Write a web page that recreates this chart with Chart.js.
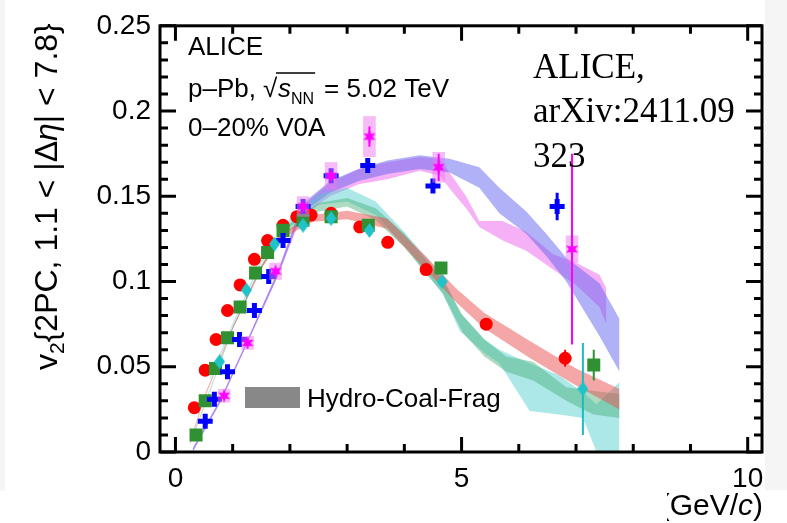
<!DOCTYPE html>
<html>
<head>
<meta charset="utf-8">
<script src="https://cdn.jsdelivr.net/npm/chart.js@4.4.1/dist/chart.umd.min.js"></script>
<style>
  html, body { margin: 0; padding: 0; background: #fff; }
  #wrap { position: relative; width: 787px; height: 523px; overflow: hidden; }
  .strip { position: absolute; background: #f5f5f5; }
  #c { position: absolute; left: 0; top: 0; }
  #cover { position: absolute; left: 0; top: 491px; width: 667px; height: 32px; background: #fff; }
</style>
</head>
<body>
<div id="wrap">
  <div class="strip" style="left:0;top:0;width:5px;height:496px"></div>
  <div class="strip" style="left:765px;top:0;width:22px;height:490px"></div>
  <canvas id="c" width="787" height="523"></canvas>
  <div id="cover"></div>
</div>
<script>
  // v2 vs pT, p-Pb 5.02 TeV, 0-20% V0A
  var SANS = '"Liberation Sans", Arial, Helvetica, sans-serif';
  var SERIF = '"Liberation Serif", "Times New Roman", serif';

  var X_MIN = -0.27, X_MAX = 10.25, Y_MIN = 0, Y_MAX = 0.25;
  var X_TICKS = [0, 5, 10];
  var X_TICK_LABELS = ['0', '5', '10'];
  var X_MINOR_TICKS = [1, 2, 3, 4, 6, 7, 8, 9];
  var Y_TICKS = [0, 0.05, 0.1, 0.15, 0.2, 0.25];
  var Y_TICK_LABELS = ['0', '0.05', '0.1', '0.15', '0.2', '0.25'];
  var Y_MINOR_TICKS = [0.01, 0.02, 0.03, 0.04, 0.06, 0.07, 0.08, 0.09, 0.11, 0.12, 0.13, 0.14,
                       0.16, 0.17, 0.18, 0.19, 0.21, 0.22, 0.23, 0.24];

  // data points
  var RED_X = [0.33, 0.52, 0.71, 0.91, 1.13, 1.38, 1.61, 1.88, 2.12, 2.37, 2.72, 3.22, 3.71, 4.38, 5.43, 6.81];
  var RED_Y = [0.026, 0.048, 0.066, 0.083, 0.098, 0.113, 0.124, 0.133, 0.138, 0.139, 0.140, 0.132, 0.123, 0.107, 0.075, 0.055];
  var RED_ERR = [0, 0, 0, 0, 0, 0, 0, 0, 0, 0, 0, 0, 0, 0, 0.002, 0.005];

  var GREEN_X = [0.36, 0.52, 0.70, 0.91, 1.13, 1.40, 1.61, 1.88, 2.23, 2.72, 3.37, 4.64, 7.31];
  var GREEN_Y = [0.010, 0.030, 0.049, 0.067, 0.085, 0.105, 0.117, 0.130, 0.136, 0.138, 0.133, 0.108, 0.051];
  var GREEN_ERR = [0, 0, 0, 0, 0, 0, 0, 0, 0, 0, 0, 0.002, 0.009];

  var BLUE_X = [0.52, 0.68, 0.91, 1.12, 1.38, 1.63, 1.88, 2.23, 2.72, 3.36, 4.50, 6.67];
  var BLUE_Y = [0.018, 0.031, 0.047, 0.066, 0.083, 0.103, 0.124, 0.144, 0.162, 0.168, 0.156, 0.144];
  var BLUE_ERR = [0, 0, 0, 0, 0, 0, 0, 0, 0, 0.002, 0.003, 0.008];

  var CYAN_X = [0.77, 1.24, 1.73, 2.23, 2.72, 3.39, 4.66, 7.12];
  var CYAN_Y = [0.053, 0.095, 0.122, 0.133, 0.137, 0.130, 0.100, 0.037];
  var CYAN_ERR = [0, 0, 0, 0, 0, 0, 0.003, 0.027];

  var MAGENTA_X = [0.85, 1.26, 1.75, 2.23, 2.72, 3.39, 4.60, 6.93];
  var MAGENTA_Y = [0.033, 0.064, 0.106, 0.144, 0.162, 0.185, 0.167, 0.119];
  var MAGENTA_ERR = [0, 0, 0, 0, 0.002, 0.006, 0.008, 0.056];
  var MAGENTA_SYS = [0.004, 0.004, 0.005, 0.006, 0.008, 0.012, 0.009, 0.008];
  var SYS_HALF_WIDTH = 0.11;

  // Hydro-Coal-Frag bands
  var PINK_BAND_X = [0.3, 0.8, 1.3, 1.8, 2.2, 2.7, 3.2, 3.7, 4.27, 4.62, 4.85, 5.08, 5.31, 5.72, 6.13, 6.6, 7.0, 7.41, 7.53];
  var PINK_BAND_LO = [0.000, 0.030, 0.067, 0.104, 0.138, 0.150, 0.157, 0.160, 0.165, 0.162, 0.152, 0.143, 0.132, 0.124, 0.118, 0.107, 0.098, 0.085, 0.075];
  var PINK_BAND_HI = [0.002, 0.032, 0.069, 0.107, 0.144, 0.158, 0.166, 0.170, 0.173, 0.172, 0.161, 0.150, 0.1355, 0.1355, 0.129, 0.116, 0.111, 0.104, 0.096];

  var BLUE_BAND_X = [0.3, 0.8, 1.3, 1.8, 2.2, 2.7, 3.2, 3.7, 4.27, 4.79, 5.31, 5.66, 6.13, 6.48, 6.83, 7.41, 7.76];
  var BLUE_BAND_LO = [0.000, 0.030, 0.067, 0.104, 0.140, 0.152, 0.159, 0.163, 0.166, 0.164, 0.155, 0.140, 0.128, 0.115, 0.100, 0.068, 0.047];
  var BLUE_BAND_HI = [0.002, 0.032, 0.069, 0.107, 0.145, 0.159, 0.166, 0.171, 0.174, 0.172, 0.167, 0.155, 0.141, 0.128, 0.114, 0.099, 0.078];

  var RED_BAND_X = [0.25, 0.5, 1.0, 1.5, 1.8, 2.4, 3.0, 3.7, 4.4, 4.9, 5.4, 6.2, 7.0, 7.76];
  var RED_BAND_LO = [0.004, 0.031, 0.072, 0.107, 0.124, 0.135, 0.1365, 0.131, 0.106, 0.088, 0.0725, 0.055, 0.039, 0.025];
  var RED_BAND_HI = [0.0055, 0.0325, 0.0735, 0.109, 0.127, 0.139, 0.1415, 0.137, 0.114, 0.096, 0.0815, 0.065, 0.049, 0.037];

  var GREEN_BAND_X = [0.3, 0.6, 1.0, 1.5, 2.0, 2.5, 3.0, 3.5, 4.0, 4.67, 5.02, 5.4, 5.78, 6.25, 6.83, 7.3, 7.76];
  var GREEN_BAND_LO = [0.008, 0.035, 0.072, 0.108, 0.130, 0.141, 0.144, 0.136, 0.120, 0.093, 0.070, 0.056, 0.047, 0.042, 0.030, 0.022, 0.020];
  var GREEN_BAND_HI = [0.0095, 0.0365, 0.0735, 0.110, 0.134, 0.146, 0.149, 0.143, 0.128, 0.101, 0.080, 0.066, 0.056, 0.053, 0.038, 0.036, 0.034];

  var CYAN_BAND_X = [0.6, 1.0, 1.5, 2.0, 2.5, 3.0, 3.5, 4.0, 4.67, 4.97, 5.4, 5.66, 6.19, 6.7, 7.12, 7.36, 7.76];
  var CYAN_BAND_LO = [0.042, 0.074, 0.111, 0.132, 0.145, 0.147, 0.139, 0.121, 0.093, 0.071, 0.058, 0.052, 0.024, 0.022, 0.020, 0.000, 0.000];
  var CYAN_BAND_HI = [0.0435, 0.0755, 0.113, 0.137, 0.151, 0.155, 0.147, 0.129, 0.103, 0.082, 0.066, 0.060, 0.052, 0.045, 0.035, 0.028, 0.041];

  function pts(xs, ys) {
    return xs.map(function(x, i) { return { x: x, y: ys[i] }; });
  }

  // marker images
  function makeDiamond(w, h, color) {
    var c = document.createElement('canvas');
    c.width = w; c.height = h;
    var g = c.getContext('2d');
    g.fillStyle = color;
    g.beginPath();
    g.moveTo(w / 2, 0); g.lineTo(w, h / 2); g.lineTo(w / 2, h); g.lineTo(0, h / 2);
    g.closePath();
    g.fill();
    return c;
  }

  function makeStar(size, color) {
    var c = document.createElement('canvas');
    c.width = size; c.height = size;
    var g = c.getContext('2d');
    var r = size / 2, ri = r * 0.45;
    g.fillStyle = color;
    g.beginPath();
    for (var i = 0; i < 12; i++) {
      var a = -Math.PI / 2 + i * Math.PI / 6;
      var rr = (i % 2 === 0) ? r : ri;
      g.lineTo(r + rr * Math.cos(a), r + rr * Math.sin(a));
    }
    g.closePath();
    g.fill();
    return c;
  }

  var datasets = [];

  function addBand(xs, lo, hi, color) {
    datasets.push({
      type: 'line', data: pts(xs, lo), borderColor: 'rgba(0,0,0,0)', borderWidth: 0,
      pointRadius: 0, fill: false, order: 10
    });
    datasets.push({
      type: 'line', data: pts(xs, hi), borderColor: 'rgba(0,0,0,0)', borderWidth: 0,
      pointRadius: 0, fill: '-1', backgroundColor: color, order: 10
    });
  }

  addBand(RED_BAND_X, RED_BAND_LO, RED_BAND_HI, 'rgba(235,80,80,0.5)');
  addBand(GREEN_BAND_X, GREEN_BAND_LO, GREEN_BAND_HI, 'rgba(70,175,120,0.45)');
  addBand(CYAN_BAND_X, CYAN_BAND_LO, CYAN_BAND_HI, 'rgba(70,205,205,0.45)');
  addBand(BLUE_BAND_X, BLUE_BAND_LO, BLUE_BAND_HI, 'rgba(100,100,240,0.5)');
  addBand(PINK_BAND_X, PINK_BAND_LO, PINK_BAND_HI, 'rgba(238,100,238,0.5)');

  datasets.push({
    data: pts(RED_X, RED_Y), pointStyle: 'circle', pointRadius: 6.5,
    backgroundColor: '#ff0000', borderWidth: 0, errY: RED_ERR, errColor: '#ff0000', order: 5
  });
  datasets.push({
    data: pts(GREEN_X, GREEN_Y), pointStyle: 'rect', pointRadius: 9.2,
    backgroundColor: '#2f9132', borderWidth: 0, errY: GREEN_ERR, errColor: '#2f9132', order: 4
  });
  datasets.push({
    data: pts(BLUE_X, BLUE_Y), pointStyle: 'cross', pointRadius: 7.5,
    borderColor: '#0000ff', borderWidth: 5, errY: BLUE_ERR, errColor: '#0000ff', errWidth: 3, order: 3
  });
  datasets.push({
    data: pts(CYAN_X, CYAN_Y), pointStyle: makeDiamond(11, 15, '#1fc3c8'), pointRadius: 6,
    backgroundColor: '#1fc3c8', borderWidth: 0, errY: CYAN_ERR, errColor: '#1fbcbc', order: 2
  });
  datasets.push({
    data: pts(MAGENTA_X, MAGENTA_Y), pointStyle: makeStar(14, '#ff00ff'), pointRadius: 6,
    backgroundColor: '#ff00ff', borderWidth: 0, errY: MAGENTA_ERR, errColor: '#ff00ff',
    sysY: MAGENTA_SYS, sysColor: 'rgba(240,120,240,0.5)', order: 1
  });

  var errorBars = {
    id: 'errorBars',
    beforeDatasetDraw: function(chart, args) {
      var ds = chart.data.datasets[args.index];
      if (!ds.errY) return;
      var ctx = chart.ctx, xs = chart.scales.x, ys = chart.scales.y;
      ctx.save();
      if (ds.sysY) {
        ctx.fillStyle = ds.sysColor;
        ds.data.forEach(function(p, i) {
          var l = xs.getPixelForValue(p.x - SYS_HALF_WIDTH), r = xs.getPixelForValue(p.x + SYS_HALF_WIDTH);
          var t = ys.getPixelForValue(p.y + ds.sysY[i]), b = ys.getPixelForValue(p.y - ds.sysY[i]);
          ctx.fillRect(l, t, r - l, b - t);
        });
      }
      ctx.strokeStyle = ds.errColor;
      ctx.lineWidth = ds.errWidth || 2;
      ctx.beginPath();
      ds.data.forEach(function(p, i) {
        var e = ds.errY[i];
        if (!e) return;
        var px = xs.getPixelForValue(p.x);
        ctx.moveTo(px, ys.getPixelForValue(p.y + e));
        ctx.lineTo(px, ys.getPixelForValue(p.y - e));
      });
      ctx.stroke();
      ctx.restore();
    }
  };

  // frame with inward ticks on all four sides
  var frameTicks = {
    id: 'frameTicks',
    afterDatasetsDraw: function(chart) {
      var ctx = chart.ctx, a = chart.chartArea;
      var xs = chart.scales.x, ys = chart.scales.y;
      ctx.save();
      ctx.strokeStyle = '#000';
      ctx.lineWidth = 3;
      ctx.strokeRect(a.left, a.top, a.right - a.left, a.bottom - a.top);
      ctx.beginPath();
      function xt(v, len) {
        var px = xs.getPixelForValue(v);
        ctx.moveTo(px, a.bottom); ctx.lineTo(px, a.bottom - len);
        ctx.moveTo(px, a.top); ctx.lineTo(px, a.top + len);
      }
      function yt(v, len) {
        var py = ys.getPixelForValue(v);
        ctx.moveTo(a.left, py); ctx.lineTo(a.left + len, py);
        ctx.moveTo(a.right, py); ctx.lineTo(a.right - len, py);
      }
      X_TICKS.forEach(function(v) { xt(v, 15); });
      X_MINOR_TICKS.forEach(function(v) { xt(v, 8); });
      Y_TICKS.forEach(function(v) { yt(v, 16); });
      Y_MINOR_TICKS.forEach(function(v) { yt(v, 8); });
      ctx.stroke();
      ctx.restore();
    }
  };

  function runs(ctx, x, y, parts) {
    parts.forEach(function(p) {
      ctx.font = p[0];
      ctx.fillText(p[1], x, y + (p[2] || 0));
      x += ctx.measureText(p[1]).width;
    });
    return x;
  }

  var labels = {
    id: 'labels',
    afterDraw: function(chart) {
      var ctx = chart.ctx;
      ctx.save();
      ctx.fillStyle = '#000';
      ctx.textAlign = 'left';
      ctx.textBaseline = 'alphabetic';

      // y axis title
      ctx.save();
      ctx.translate(57, 370);
      ctx.rotate(-Math.PI / 2);
      runs(ctx, 0, 0, [
        ['32px ' + SANS, 'v'], ['21px ' + SANS, '2', 7], ['32px ' + SANS, '{2PC, 1.1 < |\u0394'],
        ['italic 32px ' + SANS, '\u03b7'], ['32px ' + SANS, '| < 7.8}']
      ]);
      ctx.restore();

      // x axis title (right aligned)
      var xParts = [['italic 30px ' + SANS, 'p'], ['20px ' + SANS, 'T', 6], ['30px ' + SANS, ' (GeV/'],
                    ['italic 30px ' + SANS, 'c'], ['30px ' + SANS, ')']];
      var w = 0;
      xParts.forEach(function(p) { ctx.font = p[0]; w += ctx.measureText(p[1]).width; });
      runs(ctx, 763 - w, 515, xParts);

      // collision labels
      var F = '26px ' + SANS;
      ctx.font = F;
      ctx.fillText('ALICE', 188, 55);
      ctx.fillText('p\u2013Pb,', 188, 97);
      ctx.fillText('\u221a', 263, 97);
      var xe = runs(ctx, 278, 97, [['italic 26px ' + SANS, 's'], ['16px ' + SANS, 'NN', 7]]);
      ctx.lineWidth = 1.5;
      ctx.beginPath();
      ctx.moveTo(276, 73); ctx.lineTo(xe + 1, 73);
      ctx.stroke();
      ctx.font = F;
      ctx.fillText('= 5.02 TeV', 324, 97);
      ctx.fillText('0\u201320% V0A', 188, 136);

      // legend
      ctx.fillStyle = '#888888';
      ctx.fillRect(245, 387, 55, 21);
      ctx.fillStyle = '#000';
      ctx.font = '26px ' + SANS;
      ctx.fillText('Hydro-Coal-Frag', 307, 407);

      // reference note
      ctx.font = '35px ' + SERIF;
      ctx.fillText('ALICE,', 533, 78);
      ctx.fillText('arXiv:2411.09', 533, 122);
      ctx.fillText('323', 533, 167);
      ctx.restore();
    }
  };

  new Chart(document.getElementById('c'), {
    type: 'scatter',
    data: { datasets: datasets },
    options: {
      responsive: false,
      animation: false,
      devicePixelRatio: 1,
      layout: { padding: { left: 0, right: 25, top: 18, bottom: 0 } },
      plugins: { legend: { display: false }, tooltip: { enabled: false } },
      scales: {
        x: {
          type: 'linear', min: X_MIN, max: X_MAX,
          afterBuildTicks: function(s) { s.ticks = X_TICKS.map(function(v) { return { value: v }; }); },
          afterFit: function(s) { s.height = 71; },
          grid: { display: false, drawTicks: false },
          border: { display: false },
          ticks: {
            autoSkip: false, maxRotation: 0, padding: 10, color: '#000',
            font: { size: 28, family: SANS },
            callback: function(v, i) { return X_TICK_LABELS[i]; }
          }
        },
        y: {
          type: 'linear', min: Y_MIN, max: Y_MAX,
          afterBuildTicks: function(s) { s.ticks = Y_TICKS.map(function(v) { return { value: v }; }); },
          afterFit: function(s) { s.width = 160; },
          grid: { display: false, drawTicks: false },
          border: { display: false },
          ticks: {
            autoSkip: false, padding: 9, color: '#000',
            font: { size: 28, family: SANS },
            callback: function(v, i) { return Y_TICK_LABELS[i]; }
          }
        }
      }
    },
    plugins: [errorBars, frameTicks, labels]
  });
</script>
</body>
</html>
